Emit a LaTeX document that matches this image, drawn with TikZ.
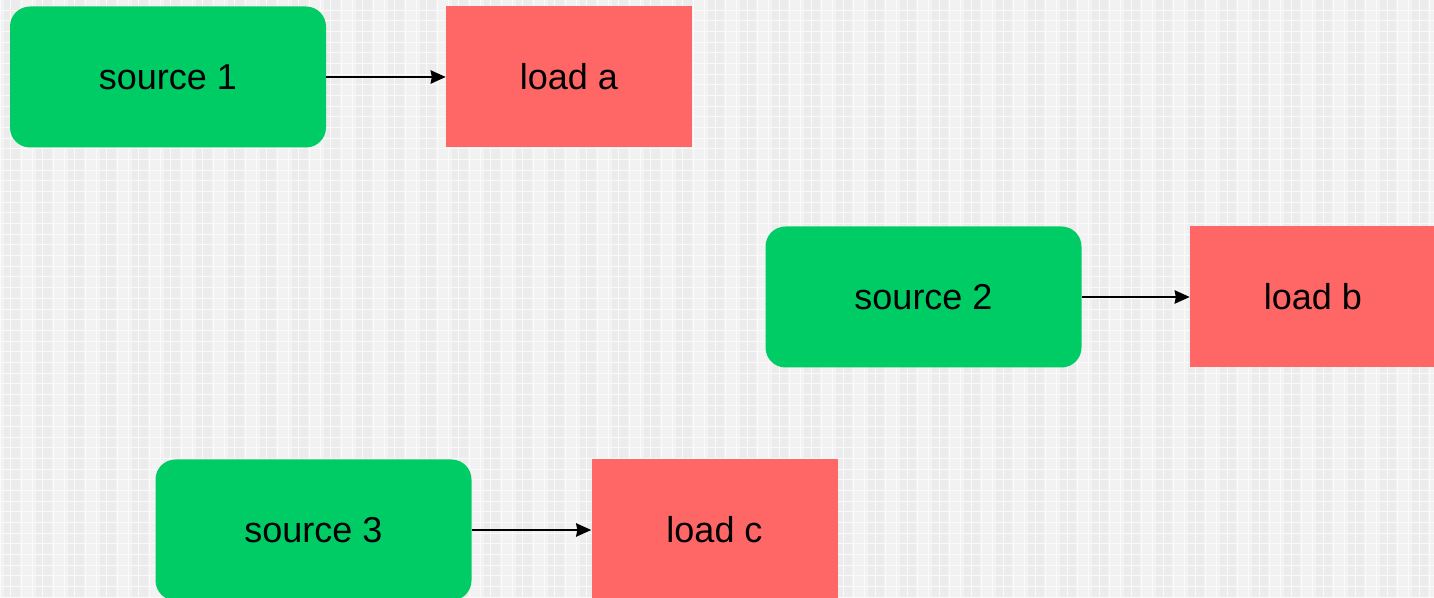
\documentclass[tikz,border=0pt]{standalone}
\usepackage{fontspec}
\setmainfont{Liberation Sans}
\usetikzlibrary{arrows.meta}
\definecolor{srcgreen}{RGB}{0,204,102}
\definecolor{loadred}{RGB}{255,102,102}
\definecolor{bgbase}{RGB}{242,242,242}
\definecolor{bgband}{RGB}{236,236,236}
\definecolor{bgline}{RGB}{250,250,250}
\tikzset{
  srcbox/.style={fill=srcgreen, rounded corners=20pt, minimum width=316pt, minimum height=141pt, inner sep=0pt, font=\fontsize{36}{40}\selectfont},
  loadbox/.style={fill=loadred, minimum width=246pt, minimum height=141pt, inner sep=0pt, font=\fontsize{36}{40}\selectfont},
  conn/.style={-{Stealth[length=15pt,width=13pt,inset=1pt]}, line width=2.8pt, black}
}
\begin{document}
\begin{tikzpicture}[x=1pt,y=1pt]
\useasboundingbox (0,0) rectangle (1434,597);
\fill[bgbase] (0,0) rectangle (1434,597);
\foreach \i in {0,...,44} {
  \fill[bgband] (\i*32+4,0) rectangle (\i*32+20,597);
}
\foreach \i in {0,...,135} {
  \draw[bgline, line width=0.8pt] (\i*10.67,0) -- (\i*10.67,597);
}
\foreach \j in {0,...,56} {
  \draw[bgline, line width=0.8pt] (0,\j*10.67) -- (1434,\j*10.67);
}
% nodes (y = 597 - pixel y)
\node[srcbox] (s1) at (168,520) {source 1};
\node[loadbox] (la) at (569,520) {load a};
\node[srcbox] (s2) at (923.5,300) {source 2};
\node[loadbox] (lb) at (1313,300) {load b};
\node[srcbox] (s3) at (313.5,67) {source 3};
\node[loadbox] (lc) at (714.5,67) {load c};
\draw[conn] (s1.east) -- (la.west);
\draw[conn] (s2.east) -- (lb.west);
\draw[conn] (s3.east) -- (lc.west);
\end{tikzpicture}
\end{document}
